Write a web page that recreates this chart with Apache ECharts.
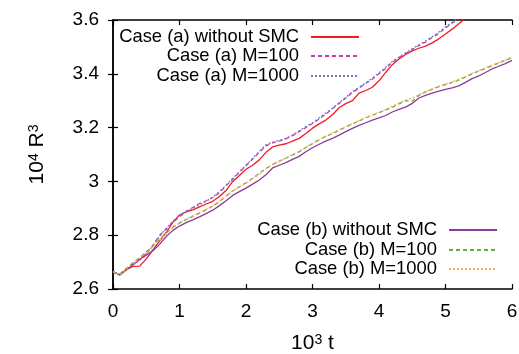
<!DOCTYPE html>
<html><head><meta charset="utf-8">
<script src="https://cdn.jsdelivr.net/npm/echarts@6/dist/echarts.min.js"></script>
<style>html,body{margin:0;padding:0;background:#fff}#c{width:519px;height:354px}</style>
</head><body><div id="c"></div>
<script>
const times = [0,0.1,0.2,0.3,0.4,0.5,0.6,0.7,0.8,0.9,1,1.1,1.2,1.3,1.4,1.5,1.6,1.7,1.8,1.9,2,2.1,2.2,2.3,2.4,2.5,2.6,2.7,2.8,2.9,3,3.1,3.2,3.3,3.4,3.5,3.6,3.7,3.8,3.9,4,4.1,4.2,4.3,4.4,4.5,4.6,4.7,4.8,4.9,5,5.1,5.2,5.3,5.4,5.5,5.6,5.7,5.8,5.9,6];
const aNoSMC = [2.665,2.652,2.672,2.684,2.685,2.712,2.745,2.778,2.81,2.848,2.875,2.887,2.894,2.905,2.916,2.926,2.944,2.966,3.0,3.022,3.045,3.06,3.08,3.108,3.128,3.135,3.14,3.15,3.16,3.178,3.198,3.214,3.228,3.248,3.274,3.289,3.3,3.328,3.338,3.35,3.374,3.405,3.434,3.455,3.472,3.485,3.495,3.503,3.515,3.53,3.548,3.566,3.586,3.607,3.628,3.648,3.67,3.69,3.71,3.73,3.75];
const aM100 = [2.662,2.655,2.676,2.694,2.71,2.733,2.762,2.8,2.822,2.848,2.868,2.888,2.903,2.918,2.928,2.94,2.958,2.984,3.008,3.034,3.058,3.083,3.108,3.132,3.143,3.15,3.158,3.17,3.185,3.2,3.215,3.232,3.25,3.27,3.29,3.31,3.33,3.347,3.364,3.38,3.4,3.42,3.443,3.46,3.475,3.49,3.505,3.518,3.535,3.55,3.57,3.588,3.606,3.625,3.645,3.665,3.685,3.705,3.725,3.745,3.765];
const aM1000 = [2.664,2.653,2.674,2.69,2.706,2.73,2.76,2.795,2.826,2.852,2.872,2.89,2.9,2.914,2.926,2.942,2.962,2.986,3.012,3.036,3.06,3.086,3.112,3.136,3.146,3.152,3.16,3.172,3.188,3.204,3.218,3.236,3.254,3.272,3.292,3.312,3.334,3.35,3.366,3.384,3.404,3.424,3.446,3.462,3.478,3.493,3.508,3.522,3.538,3.555,3.574,3.592,3.61,3.63,3.65,3.67,3.69,3.71,3.73,3.75,3.77];
const bNoSMC = [2.665,2.652,2.672,2.69,2.71,2.726,2.742,2.766,2.795,2.818,2.834,2.847,2.857,2.868,2.88,2.893,2.91,2.928,2.948,2.962,2.975,2.99,3.005,3.025,3.05,3.06,3.07,3.082,3.093,3.11,3.125,3.138,3.15,3.16,3.172,3.185,3.197,3.208,3.218,3.228,3.236,3.245,3.258,3.268,3.276,3.29,3.31,3.32,3.328,3.336,3.342,3.348,3.355,3.368,3.382,3.392,3.405,3.418,3.428,3.438,3.45];
const bM100 = [2.664,2.655,2.676,2.698,2.716,2.738,2.76,2.785,2.808,2.83,2.845,2.858,2.87,2.882,2.895,2.908,2.925,2.945,2.965,2.98,2.995,3.012,3.03,3.048,3.062,3.075,3.086,3.098,3.11,3.126,3.14,3.155,3.168,3.178,3.19,3.202,3.214,3.225,3.236,3.246,3.255,3.265,3.276,3.288,3.3,3.298,3.32,3.332,3.342,3.352,3.36,3.368,3.376,3.388,3.4,3.41,3.42,3.43,3.44,3.45,3.46];
const bM1000 = [2.665,2.654,2.674,2.695,2.714,2.735,2.758,2.782,2.806,2.828,2.846,2.86,2.872,2.884,2.896,2.91,2.926,2.946,2.964,2.978,2.993,3.01,3.027,3.046,3.064,3.076,3.087,3.1,3.112,3.128,3.142,3.156,3.168,3.18,3.192,3.204,3.215,3.226,3.237,3.248,3.258,3.268,3.28,3.292,3.302,3.31,3.322,3.334,3.344,3.354,3.362,3.37,3.38,3.39,3.402,3.412,3.422,3.432,3.442,3.452,3.462];
const seriesNames = ['Case (a) without SMC','Case (a) M=100','Case (a) M=1000','Case (b) without SMC','Case (b) M=100','Case (b) M=1000'];
const seriesValues = [aNoSMC,aM100,aM1000,bNoSMC,bM100,bM1000];
const seriesColors = ['#f01c24','#c83ca8','#7878c4','#8c3c9c','#64ac3c','#fcae5c'];
const seriesDash = ['solid',[4,3],[2,2],'solid',[4,3],[2,2]];

const FONT = 'Liberation Sans, Arial, sans-serif';
const chart = echarts.init(document.getElementById('c'));
const axisCommon = {
  axisLine:{show:true,lineStyle:{color:'#000',width:1.5}},
  axisTick:{show:true,inside:true,length:5,lineStyle:{color:'#000',width:1.2}},
  splitLine:{show:false}
};
const legendTops = [28,47,67,221,241,260];
const legends = seriesNames.map((n,i)=>({
  data:[n], orient:'vertical', align:'right', right: i<3 ? 159 : 21, top: legendTops[i],
  padding:0, itemWidth:48, itemHeight:10, itemGap:0, selectedMode:false,
  itemStyle:{opacity:0},
  textStyle:{fontFamily:FONT,fontSize:18.4,color:'#000',padding:[0,7,0,0]}
}));
const supRich = {sup:{fontSize:14,verticalAlign:'top',fontFamily:FONT,color:'#000'}};
chart.setOption({
  animation:false,
  grid:{left:113,right:7,top:20,bottom:65,containLabel:false,outerBoundsMode:'none'},
  legend: legends,
  xAxis:[
    Object.assign({}, axisCommon, {type:'value',min:0,max:6,interval:1,
      name:'10{sup|3} t', nameLocation:'middle', nameGap:44,
      nameTextStyle:{fontFamily:FONT,fontSize:21,color:'#000',rich:supRich},
      axisLabel:{fontFamily:FONT,fontSize:19,color:'#000',margin:13}}),
    Object.assign({}, axisCommon, {type:'value',min:0,max:6,interval:1,position:'top',axisLabel:{show:false}})
  ],
  yAxis:[
    Object.assign({}, axisCommon, {type:'value',min:2.6,max:3.6,interval:0.2,
      name:'10{sup|4} R{sup|3}', nameLocation:'middle', nameGap:65, nameRotate:90,
      nameTextStyle:{fontFamily:FONT,fontSize:21,color:'#000',rich:supRich},
      axisLabel:{fontFamily:FONT,fontSize:19,color:'#000',margin:14,formatter:v=>String(+v.toFixed(1))}}),
    Object.assign({}, axisCommon, {type:'value',min:2.6,max:3.6,interval:0.2,position:'right',axisLabel:{show:false}})
  ],
  series: seriesNames.map((n,i)=>({
    name:n, type:'line', showSymbol:false, symbol:'none', clip:true,
    data: times.map((t,j)=>[t, seriesValues[i][j]]),
    lineStyle:{color:seriesColors[i],width:1.3,type:seriesDash[i]},
    itemStyle:{color:seriesColors[i]}
  }))
});
</script></body></html>
